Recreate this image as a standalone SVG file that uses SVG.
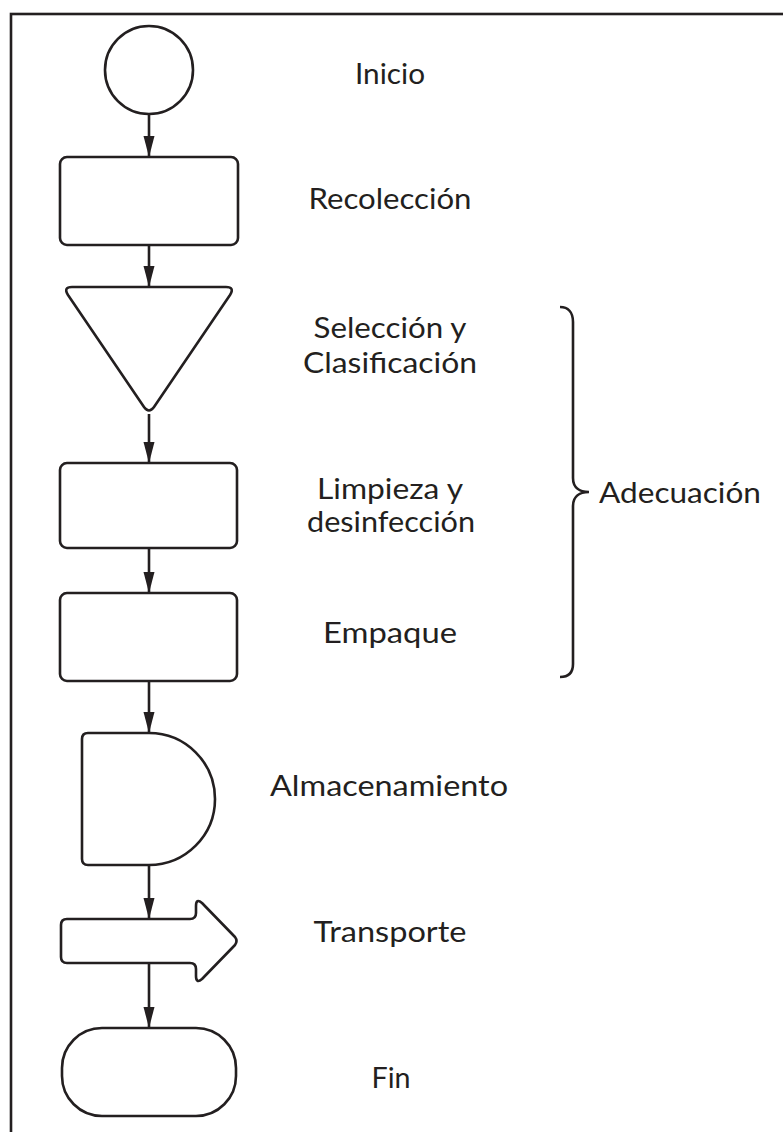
<svg xmlns="http://www.w3.org/2000/svg" width="783" height="1132" viewBox="0 0 783 1132">
<style>
.shape{fill:#ffffff;stroke:#231f20;stroke-width:2.6;stroke-linejoin:round}
.conn{stroke:#231f20;stroke-width:2.6;fill:none}
.lbl{font-family:"Lato","Liberation Sans",sans-serif;font-size:28px;fill:#231f20;text-anchor:middle}
.frame{fill:none;stroke:#231f20;stroke-width:2.6}
</style>
<defs>
<marker id="ah" markerUnits="userSpaceOnUse" markerWidth="22" markerHeight="12" refX="21" refY="5.5" orient="auto">
<path d="M0,0 L21,5.5 L0,11 Z" fill="#231f20"/>
</marker>
</defs>
<rect class="frame" x="11" y="14" width="820" height="1150"/>
<g id="connectors">
<line class="conn" x1="149" y1="114" x2="149" y2="157" marker-end="url(#ah)"/>
<line class="conn" x1="149" y1="245" x2="149" y2="287" marker-end="url(#ah)"/>
<line class="conn" x1="149" y1="414" x2="149" y2="463" marker-end="url(#ah)"/>
<line class="conn" x1="149" y1="548" x2="149" y2="593" marker-end="url(#ah)"/>
<line class="conn" x1="149" y1="681" x2="149" y2="733" marker-end="url(#ah)"/>
<line class="conn" x1="149" y1="865" x2="149" y2="919" marker-end="url(#ah)"/>
<line class="conn" x1="149" y1="963" x2="149" y2="1028" marker-end="url(#ah)"/>
</g>
<g id="inicio">
<circle class="shape" cx="149" cy="70" r="44"/>
<text class="lbl" x="390" y="84" textLength="70" lengthAdjust="spacingAndGlyphs">Inicio</text>
</g>
<g id="recoleccion">
<rect class="shape" x="60" y="157" width="178" height="88" rx="7"/>
<text class="lbl" x="390" y="209" textLength="163" lengthAdjust="spacingAndGlyphs">Recolección</text>
</g>
<g id="seleccion">
<path class="shape" d="M72,287 L226,287 Q235,287 230,295 L154,407 Q149,414 144,407 L68,295 Q63,287 72,287 Z"/>
<text class="lbl" x="390" y="338" textLength="153" lengthAdjust="spacingAndGlyphs">Selección y</text>
<text class="lbl" x="390" y="373" textLength="174" lengthAdjust="spacingAndGlyphs">Clasificación</text>
</g>
<g id="limpieza">
<rect class="shape" x="60" y="463" width="177" height="85" rx="7"/>
<text class="lbl" x="390" y="499" textLength="146" lengthAdjust="spacingAndGlyphs">Limpieza y</text>
<text class="lbl" x="391" y="532" textLength="168" lengthAdjust="spacingAndGlyphs">desinfección</text>
</g>
<g id="empaque">
<rect class="shape" x="60" y="593" width="177" height="88" rx="7"/>
<text class="lbl" x="390" y="643" textLength="134" lengthAdjust="spacingAndGlyphs">Empaque</text>
</g>
<g id="almacenamiento">
<path class="shape" d="M88,733 L149,733 A66,66 0 0 1 149,865 L88,865 Q82,865 82,859 L82,739 Q82,733 88,733 Z"/>
<text class="lbl" x="389" y="796" textLength="238" lengthAdjust="spacingAndGlyphs">Almacenamiento</text>
</g>
<g id="transporte">
<path class="shape" d="M67,919 L190,919 Q196,919 196,913 L196,906 Q196,898 202,903 L235,937 Q238,941 235,945 L202,979 Q196,984 196,976 L196,969 Q196,963 190,963 L67,963 Q61,963 61,957 L61,925 Q61,919 67,919 Z"/>
<text class="lbl" x="390" y="942" textLength="153" lengthAdjust="spacingAndGlyphs">Transporte</text>
</g>
<g id="fin">
<rect class="shape" x="62" y="1028" width="174" height="88" rx="40"/>
<text class="lbl" x="391" y="1088" textLength="39" lengthAdjust="spacingAndGlyphs">Fin</text>
</g>
<g id="adecuacion">
<path class="conn" d="M560,307 C568,307 573,312 573,322 L573,478 C573,488 580,492 589,492 C580,492 573,496 573,506 L573,664 C573,673 568,677 560,677"/>
<text class="lbl" x="680" y="503" textLength="162" lengthAdjust="spacingAndGlyphs">Adecuación</text>
</g>
</svg>
